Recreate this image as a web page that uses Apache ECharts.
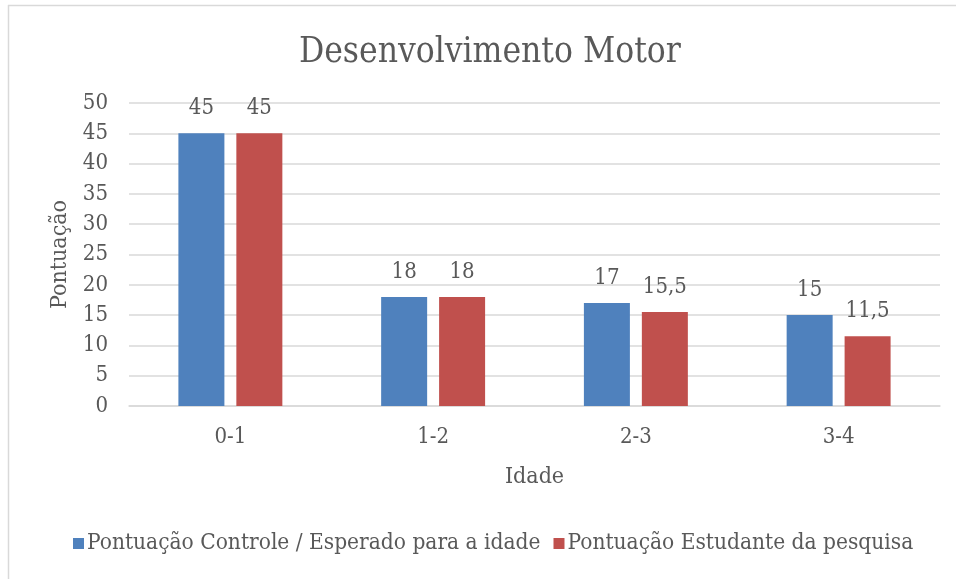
<!DOCTYPE html>
<html>
<head>
<meta charset="utf-8">
<script src="https://cdn.jsdelivr.net/npm/echarts@6/dist/echarts.min.js"></script>
<style>
  html, body { margin: 0; padding: 0; background: #fff; }
  #chart { width: 956px; height: 579px; }
</style>
</head>
<body>
<div id="chart"></div>
<script>
var categories = ['0-1', '1-2', '2-3', '3-4']
var controle = [45, 18, 17, 15]
var estudante = [45, 18, 15.5, 11.5]
var seriesNames = ['Pontuação Controle / Esperado para a idade', 'Pontuação Estudante da pesquisa']

var font = '"DejaVu Serif Condensed", "Liberation Serif", serif'
var textColor = '#595959'

function fmt(p) {
  return String(p.value).replace('.', ',')
}

var chart = echarts.init(document.getElementById('chart'))
chart.setOption({
  animation: false,
  textStyle: { fontFamily: font },
  title: {
    text: 'Desenvolvimento Motor',
    left: 294,
    top: 30,
    textStyle: { fontFamily: font, fontSize: 35, fontWeight: 'normal', color: textColor }
  },
  graphic: [
    { type: 'line', shape: { x1: 8, y1: 5.5, x2: 956, y2: 5.5 }, style: { stroke: '#d9d9d9', lineWidth: 1.5 } },
    { type: 'line', shape: { x1: 8.5, y1: 5, x2: 8.5, y2: 579 }, style: { stroke: '#d9d9d9', lineWidth: 1.5 } }
  ],
  legend: {
    data: seriesNames,
    bottom: 19,
    left: 68,
    itemWidth: 11,
    itemHeight: 11,
    itemGap: 13,
    icon: 'rect',
    textStyle: { fontFamily: font, fontSize: 22.5, color: textColor, padding: [0, 0, 0, -2] }
  },
  grid: { left: 129, right: 16, top: 103, bottom: 173 },
  xAxis: {
    type: 'category',
    data: categories,
    name: 'Idade',
    nameLocation: 'middle',
    nameGap: 60,
    nameTextStyle: { fontFamily: font, fontSize: 23, color: textColor },
    axisLine: { lineStyle: { color: '#d9d9d9', width: 1.5 } },
    axisTick: { show: false },
    axisLabel: { fontFamily: font, fontSize: 22, color: textColor, margin: 20 }
  },
  yAxis: {
    type: 'value',
    min: 0,
    max: 50,
    interval: 5,
    name: 'Pontuação',
    nameLocation: 'middle',
    nameGap: 56,
    nameTextStyle: { fontFamily: font, fontSize: 23, color: textColor },
    axisLine: { show: false },
    axisTick: { show: false },
    splitLine: { lineStyle: { color: '#d9d9d9', width: 1.5 } },
    axisLabel: { fontFamily: font, fontSize: 22, color: textColor, margin: 21 }
  },
  series: [{
    name: seriesNames[0],
    type: 'bar',
    data: controle,
    barWidth: 46,
    barGap: '26%',
    itemStyle: { color: '#4f81bd' },
    label: { show: true, position: 'top', distance: 14, fontFamily: font, fontSize: 22, color: textColor, formatter: fmt }
  }, {
    name: seriesNames[1],
    type: 'bar',
    data: estudante,
    barWidth: 46,
    barGap: '26%',
    itemStyle: { color: '#c0504d' },
    label: { show: true, position: 'top', distance: 14, fontFamily: font, fontSize: 22, color: textColor, formatter: fmt }
  }]
})
</script>
</body>
</html>
